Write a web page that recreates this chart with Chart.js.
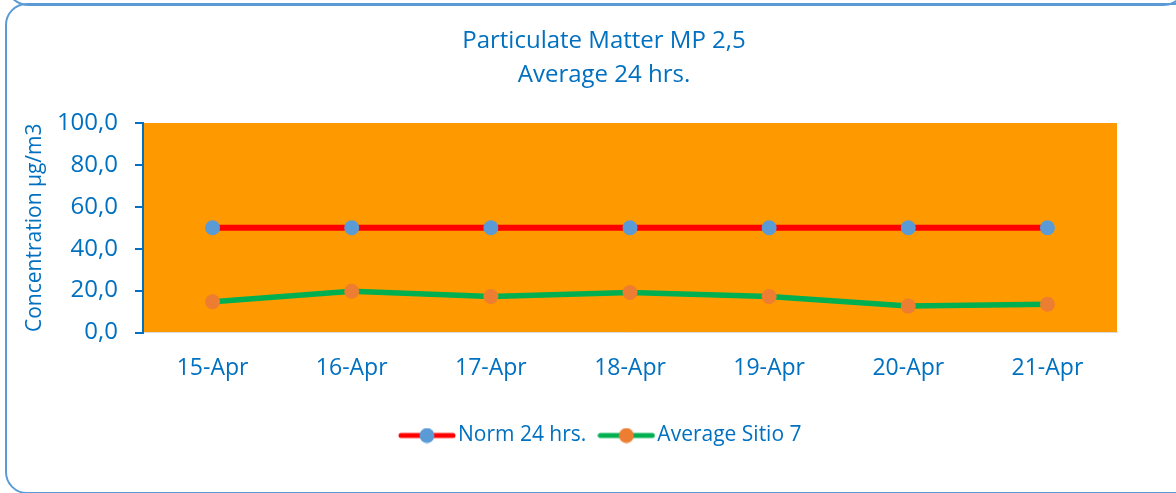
<!DOCTYPE html>
<html>
<head>
<meta charset="utf-8">
<title>Particulate Matter MP 2,5</title>
<script src="https://cdn.jsdelivr.net/npm/chart.js@4.4.1/dist/chart.umd.min.js"></script>
<style>
  html, body { margin: 0; padding: 0; background: #fff; overflow: hidden; }
  .wrap { position: relative; width: 1176px; height: 493px; }
  .frame-top { position: absolute; left: 4px; top: -60px; width: 1184px; height: 66px;
    border: 2px solid #5B9BD5; border-radius: 25px; box-sizing: border-box; }
  .frame { position: absolute; left: 5px; top: 3px; width: 1220px; height: 491px;
    border: 2.5px solid #5B9BD5; border-radius: 22px; box-sizing: border-box; }
  canvas { position: absolute; left: 0; top: 0; }
</style>
</head>
<body>
<div class="wrap">
  <div class="frame-top"></div>
  <div class="frame"></div>
  <canvas id="chart" width="1176" height="493"></canvas>
</div>
<script>
// data
const days = ['15-Apr', '16-Apr', '17-Apr', '18-Apr', '19-Apr', '20-Apr', '21-Apr'];
const norm24 = [50, 50, 50, 50, 50, 50, 50];
const sitio7 = [14.7, 19.7, 17.2, 19.1, 17.2, 12.6, 13.5];
const yMin = 0, yMax = 100, yStep = 20;

const blueText = '#0070C0';
const fontFamily = '"Open Sans", "Liberation Sans", sans-serif';
const font = { family: fontFamily, size: 23 };

// line + dot marker for the legend
function marker(lineColor, dotColor) {
    const c = document.createElement('canvas');
    c.width = 58;
    c.height = 16;
    const g = c.getContext('2d');
    g.strokeStyle = lineColor;
    g.lineWidth = 5;
    g.lineCap = 'round';
    g.beginPath();
    g.moveTo(3, 8);
    g.lineTo(55, 8);
    g.stroke();
    g.fillStyle = dotColor;
    g.beginPath();
    g.arc(29, 8, 7.5, 0, Math.PI * 2);
    g.fill();
    return c;
}
const markers = [marker('#FF0000', '#5B9BD5'), marker('#00B050', '#ED7D31')];

// orange plot area
const plotBg = {
    id: 'plotBg',
    beforeDraw(chart) {
        const { ctx, chartArea: a } = chart;
        ctx.save();
        ctx.fillStyle = '#FF9900';
        ctx.fillRect(a.left, a.top, a.right - a.left, a.bottom - a.top);
        ctx.restore();
    }
};

const chart = document.querySelector('#chart').getContext('2d');

new Chart(chart, {
    type: 'line',
    data: {
        labels: days,
        datasets: [
            {
                label: 'Norm 24 hrs.',
                data: norm24,
                borderColor: '#FF0000',
                borderWidth: 6,
                pointBackgroundColor: '#5B9BD5',
                pointBorderWidth: 0,
                pointRadius: 7.5,
                tension: 0
            },
            {
                label: 'Average Sitio 7',
                data: sitio7,
                borderColor: '#00B050',
                borderWidth: 5.5,
                pointBackgroundColor: '#ED7D31',
                pointBorderWidth: 0,
                pointRadius: 7.5,
                tension: 0
            }
        ]
    },
    options: {
        responsive: false,
        animation: false,
        layout: { padding: { left: 32, right: 0, top: 0, bottom: 37 } },
        plugins: {
            title: {
                display: true,
                text: ['Particulate Matter MP 2,5', 'Average 24 hrs.'],
                color: blueText,
                font: { family: fontFamily, size: 24, weight: 'normal', lineHeight: 1.4 },
                padding: { top: 24.5, bottom: 31.3 }
            },
            legend: {
                position: 'bottom',
                labels: {
                    usePointStyle: true,
                    pointStyleWidth: 41,
                    color: blueText,
                    font: { family: fontFamily, size: 21 },
                    padding: 19.5,
                    generateLabels(c) {
                        const items = Chart.defaults.plugins.legend.labels.generateLabels(c);
                        items.forEach((it, i) => { it.pointStyle = markers[i]; });
                        return items;
                    }
                }
            },
            tooltip: { enabled: false }
        },
        scales: {
            x: {
                offset: true,
                grid: { display: false, drawTicks: false },
                border: { color: '#D9D9D9', width: 1 },
                ticks: { color: blueText, font: font, padding: 22, maxRotation: 0 },
                afterFit(s) { s.height = 73; }
            },
            y: {
                min: yMin,
                max: yMax,
                ticks: {
                    stepSize: yStep,
                    color: blueText,
                    font: { family: fontFamily, size: 24 },
                    padding: 17,
                    callback: v => v.toFixed(1).replace('.', ',')
                },
                grid: { drawOnChartArea: false, drawTicks: true, tickLength: 8, color: blueText, lineWidth: 2 },
                border: { color: blueText, width: 2 },
                // negative padding pulls the title left of the padded area
                title: { display: true, text: 'Concentration µg/m3', color: blueText, font: { family: fontFamily, size: 21 }, padding: { top: -10 } },
                afterFit(s) { s.width = 111; }
            },
            // empty axis only to keep the plot clear of the right edge
            yRight: {
                position: 'right',
                grid: { display: false, drawTicks: false },
                border: { display: false },
                ticks: { display: false },
                afterFit(s) { s.width = 59; }
            }
        }
    },
    plugins: [plotBg]
});
</script>
</body>
</html>
